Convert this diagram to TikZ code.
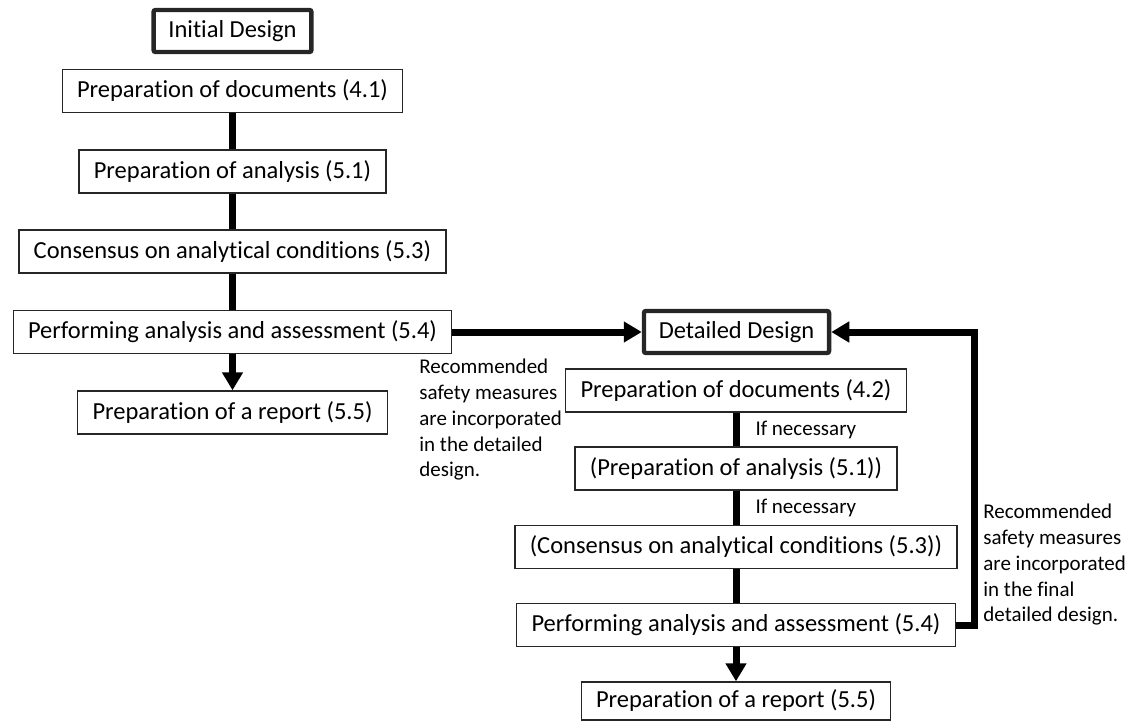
\documentclass[tikz,border=0pt]{standalone}
\usepackage{fontspec}
\setmainfont[Ligatures=NoCommon]{Carlito}
\usetikzlibrary{arrows.meta}

\begin{document}
\begin{tikzpicture}[x=0.5pt, y=-0.5pt,
  box/.style={draw=black!85, line width=0.7pt, inner xsep=7.4pt, minimum height=21.5pt, font=\fontsize{12.25}{14}\selectfont},
  design/.style={box, line width=2.2pt, rounded corners=1pt, minimum height=21pt},
  link/.style={line width=3.5pt},
  arrow/.style={link, -{Triangle[width=10pt,length=9pt]}},
  note/.style={inner sep=0pt, align=left, font=\fontsize{10.5}{12.85}\selectfont}]
\useasboundingbox (0,0) rectangle (1133,721);

% Initial design
\node[design] (init) at (232.5,31) {Initial Design};
\node[box] (doc1) at (232.5,91) {Preparation of documents (4.1)};
\node[box] (ana1) at (232.5,171.5) {Preparation of analysis (5.1)};
\node[box] (con1) at (232.5,251.5) {Consensus on analytical conditions (5.3)};
\node[box] (perf1) at (232.5,332) {Performing analysis and assessment (5.4)};
\node[box] (rep1) at (232.5,412.5) {Preparation of a report (5.5)};

\draw[link] (doc1) -- (ana1);
\draw[link] (ana1) -- (con1);
\draw[link] (con1) -- (perf1);
\draw[arrow] (perf1) -- (rep1);

% Detailed design
\node[design] (det) at (736.5,332) {Detailed Design};
\node[box] (doc2) at (736,390.5) {Preparation of documents (4.2)};
\node[box] (ana2) at (736,468.5) {(Preparation of analysis (5.1))};
\node[box] (con2) at (736,547) {(Consensus on analytical conditions (5.3))};
\node[box] (perf2) at (736,625) {Performing analysis and assessment (5.4)};
\node[box, minimum height=19pt] (rep2) at (736,701) {Preparation of a report (5.5)};

\draw[link] (doc2) -- (ana2) node[note, midway, right=8pt] {If necessary};
\draw[link] (ana2) -- (con2) node[note, midway, right=8pt] {If necessary};
\draw[link] (con2) -- (perf2);
\draw[arrow] (perf2) -- (rep2);

% Feedback into detailed design
\draw[arrow] (perf1) -- (det);
\node[note, anchor=north west] (fb1) at (419,359) {Recommended\\safety measures\\are incorporated\\in the detailed\\design.};

\coordinate (loop) at (974,625);
\draw[arrow] (perf2.east) -- (loop) |- (det.east);
\node[note, anchor=north west] (fb2) at (983,504) {Recommended\\safety measures\\are incorporated\\in the final\\detailed design.};
\end{tikzpicture}
\end{document}
